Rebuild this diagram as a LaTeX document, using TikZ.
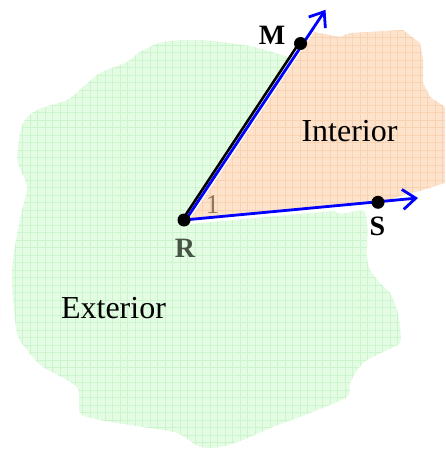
\documentclass[tikz,border=0pt]{standalone}
\usepackage{fontspec}
\setmainfont{Liberation Serif}
\usetikzlibrary{arrows.meta}
\definecolor{extgreen}{RGB}{228,252,228}
\definecolor{extgrid}{RGB}{205,245,205}
\definecolor{intorange}{RGB}{253,226,204}
\definecolor{intgrid}{RGB}{249,210,178}
\definecolor{raycol}{RGB}{0,0,255}
\definecolor{rlabel}{RGB}{70,85,70}
\definecolor{anglecol}{RGB}{140,120,95}
\tikzset{
  dot/.style={circle,fill=black,inner sep=0pt,minimum size=13pt},
  raystyle/.style={draw=raycol,line width=2.8pt,-{Straight Barb[length=13pt,width=20pt]}},
  lbl/.style={font=\fontsize{28}{30}\selectfont\bfseries,anchor=base,inner sep=0pt},
  region/.style={font=\fontsize{32}{34}\selectfont,anchor=base,inner sep=0pt},
  gridlines/.style={line width=0.5pt,step=7.5pt},
}
\begin{document}
\begin{tikzpicture}[x=1pt,y=-1pt]
\useasboundingbox (0,0) rectangle (445,449);
% key points
\coordinate (R) at (184,220);
\coordinate (M) at (300.5,43.5);
\coordinate (S) at (378,202.3);
\coordinate (Mtip) at (324.3,9);
\coordinate (Stip) at (418,198);
% exterior blob
\def\greenblob{plot[smooth cycle,tension=0.45] coordinates {
  (163,42) (140,52) (127,62) (100,73) (83,87) (67,100) (37,110) (23,123)
  (18,147) (18,163) (27,187) (22,210) (17,235) (13,260) (12,283) (17,333)
  (27,350) (43,367) (77,387) (80,413) (100,420) (143,427) (177,433) (200,447)
  (220,447) (243,440) (273,427) (310,413) (347,397) (350,383) (363,363)
  (387,350) (400,343) (400,327) (397,310) (390,293) (380,283) (370,270)
  (367,257) (365,212) (335,211) (330,150) (300,62) (288,57) (250,46) (200,40)}}
\begin{scope}
  \clip \greenblob;
  \fill[extgreen] (0,0) rectangle (445,449);
  \draw[extgrid,gridlines] (0,0) grid (445,449);
\end{scope}
% white wedge between the rays
\fill[white] (R) -- (330,0) -- (445,0) -- (445,200.5) -- (184,224.5) -- cycle;
% interior region
\def\orangeblob{(190,219) -- (314,32) -- (340,37) -- (350,33) -- (403,30)
  -- (420,43) -- (423,60) -- (423,83) -- (430,97) -- (445,107) -- (445,183)
  -- (423,190) -- (403,195) -- (390,199.5) -- cycle}
\begin{scope}
  \clip \orangeblob;
  \fill[intorange] (0,0) rectangle (445,449);
  \draw[intgrid,gridlines] (0,0) grid (445,449);
\end{scope}
% rays
\draw[raystyle] ([xshift=1.2pt,yshift=-0.8pt]R) -- ([xshift=1.2pt,yshift=-0.8pt]Mtip);
\draw[raystyle] (R) -- (Stip);
\draw[black,line width=2.6pt] ([xshift=-1.2pt,yshift=0.8pt]R) -- ([xshift=-1.2pt,yshift=0.8pt]M);
% points
\node[dot] (Rd) at (R) {};
\node[dot] (Md) at (M) {};
\node[dot] (Sd) at (S) {};
% labels
\node[lbl] (Ml) at (272,45) {M};
\node[lbl] (Sl) at (377.5,235) {S};
\node[lbl,text=rlabel] (Rl) at (185,257) {R};
\node[font=\fontsize{27}{29}\selectfont,anchor=base,inner sep=0pt,text=anglecol] (ang) at (212.5,213) {1};
\node[region] (int) at (349.5,142) {Interior};
\node[region] (ext) at (113.5,318) {Exterior};
\end{tikzpicture}
\end{document}
